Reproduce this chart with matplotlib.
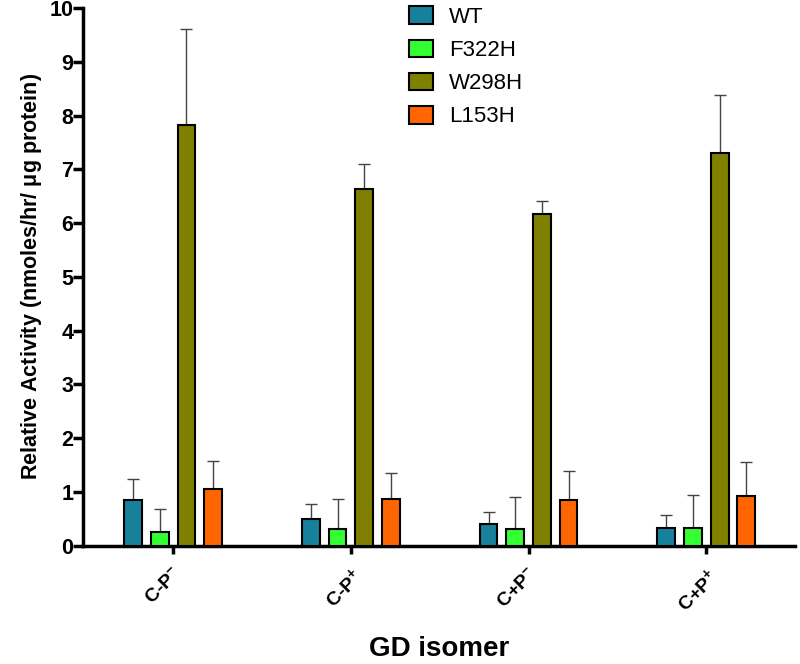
import numpy as np
import matplotlib.pyplot as plt

plt.rcParams['font.family'] = ['Liberation Sans', 'DejaVu Sans']
plt.rcParams['mathtext.fontset'] = 'custom'
plt.rcParams['mathtext.rm'] = 'Liberation Sans'
plt.rcParams['mathtext.bf'] = 'Liberation Sans:bold'

isomers = ['C-P$\\mathbf{{}^{-}}$', 'C-P$\\mathbf{{}^{+}}$', 'C+P$\\mathbf{{}^{-}}$', 'C+P$\\mathbf{{}^{+}}$']
mutants = ['WT', 'F322H', 'W298H', 'L153H']
colors = ['#17809b', '#33ff33', '#808000', '#ff6600']
yticks = list(range(0, 11))

wt = [0.85, 0.50, 0.40, 0.34]
f322h = [0.26, 0.32, 0.32, 0.34]
w298h = [7.83, 6.63, 6.17, 7.30]
l153h = [1.05, 0.87, 0.85, 0.93]

wt_err = [0.40, 0.28, 0.23, 0.24]
f322h_err = [0.42, 0.55, 0.58, 0.60]
w298h_err = [1.77, 0.47, 0.25, 1.08]
l153h_err = [0.52, 0.49, 0.54, 0.63]

values = [wt, f322h, w298h, l153h]
errors = [wt_err, f322h_err, w298h_err, l153h_err]

fig = plt.figure(figsize=(8, 6.64), dpi=100)
ax = fig.add_axes([0.104, 0.178, 0.89, 0.81])

x = np.arange(len(isomers))
step = 0.15
width = 0.1
for i, (name, vals, errs, c) in enumerate(zip(mutants, values, errors, colors)):
    pos = x + (i - 1.5) * step
    ax.bar(pos, vals, width, color=c, edgecolor='black', linewidth=1.5, label=name, zorder=3)
    ax.errorbar(pos, vals, yerr=[np.zeros(len(errs)), errs], fmt='none',
                ecolor='#444444', elinewidth=1, capsize=4, capthick=1, zorder=2)

ax.spines['top'].set_visible(False)
ax.spines['right'].set_visible(False)
ax.spines['left'].set_linewidth(2.5)
ax.spines['bottom'].set_linewidth(2.5)
ax.tick_params(axis='y', width=2.5, length=7, pad=0)
ax.tick_params(axis='x', width=2.5, length=6, pad=8)

ax.set_xlim(-0.506, 3.5)
ax.set_ylim(0, 10)
ax.set_yticks(yticks, labels=[str(v) for v in yticks], fontsize=15.5, fontweight='bold')
ax.set_xticks(x, labels=isomers, rotation=45, ha='right', rotation_mode='anchor',
              fontsize=14, fontweight='bold')

ax.set_ylabel('Relative Activity (nmoles/hr/ $\\mathregular{\\mu}$g protein)',
              fontsize=15.5, fontweight='bold', labelpad=4)
ax.set_xlabel('GD isomer', fontsize=20, fontweight='bold', labelpad=15)

ax.legend(loc='upper left', bbox_to_anchor=(0.43, 1.04), frameon=False,
          fontsize=16, handlelength=1.05, handleheight=0.85, labelspacing=0.52,
          handletextpad=0.75)

fig.savefig('out.png', dpi=100)
